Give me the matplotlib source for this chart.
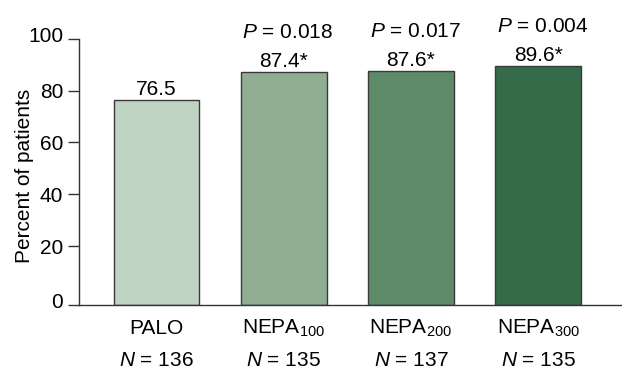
import matplotlib
matplotlib.use("Agg")
import matplotlib.pyplot as plt
import matplotlib.transforms as mtransforms

plt.rcParams["font.family"] = ["Liberation Sans", "DejaVu Sans"]
plt.rcParams["mathtext.fontset"] = "custom"
plt.rcParams["mathtext.rm"] = "Liberation Sans"
plt.rcParams["mathtext.it"] = "Liberation Sans:italic"

# -----------------------
# DATA
# -----------------------
groups = ["PALO", "NEPA$_{100}$", "NEPA$_{200}$", "NEPA$_{300}$"]
n_labels = ["136", "135", "137", "135"]
percents = [76.5, 87.4, 87.6, 89.6]
value_labels = ["76.5", "87.4*", "87.6*", "89.6*"]
p_values = [None, "0.018", "0.017", "0.004"]
colors = ["#c0d4c4", "#8fae94", "#5f8a69", "#346b48"]

FS = 15
# the baseline in the original sits a bit below the 0 tick
BASE = -2.8

fig = plt.figure(figsize=(6.22, 3.71), dpi=100)
ax = fig.add_axes([0.127, 0.1779, 0.873, 0.717])

x = list(range(len(groups)))
heights = [v - BASE for v in percents]
ax.bar(x, heights, bottom=BASE, width=0.675, color=colors,
       edgecolor="#3a3a3a", linewidth=1.0)

ax.set_xlim(-0.61, 3.66)
ax.set_ylim(BASE, 100)

ax.set_yticks([BASE, 20, 40, 60, 80, 100])
ax.set_yticklabels(["0", "20", "40", "60", "80", "100"])
ax.tick_params(axis="y", length=8, width=1.0, pad=3.5, labelsize=FS,
               color="#333333")
ax.set_xticks([])

# the 0 and 100 labels sit a little above their ticks
fig.canvas.draw()
up = mtransforms.ScaledTranslation(0, 4 / 100, fig.dpi_scale_trans)
ylabs = ax.get_yticklabels()
for lab in (ylabs[0], ylabs[-1]):
    lab.set_transform(lab.get_transform() + up)

for s in ["top", "right"]:
    ax.spines[s].set_visible(False)
for s in ["left", "bottom"]:
    ax.spines[s].set_color("#333333")
    ax.spines[s].set_linewidth(1.0)

# value labels and P values above the bars
for xi, v, lab, p in zip(x, percents, value_labels, p_values):
    ax.annotate(lab, (xi, v), xytext=(0, 3.5), textcoords="offset points",
                ha="center", va="baseline", fontsize=FS)
    if p is not None:
        ax.annotate("$P$ = " + p, (xi, v), xytext=(3, 24.5),
                    textcoords="offset points",
                    ha="center", va="baseline", fontsize=FS)

# group names and N = ... row under the axis
trans = mtransforms.blended_transform_factory(ax.transData, fig.transFigure)
for xi, g, n in zip(x, groups, n_labels):
    ax.text(xi, 1 - 334 / 371, g, transform=trans,
            ha="center", va="baseline", fontsize=FS)
    ax.text(xi, 1 - 366.5 / 371, "$N$ = " + n, transform=trans,
            ha="center", va="baseline", fontsize=FS)

fig.text(24 / 622, 1 - 176 / 371, "Percent of patients", rotation=90,
         ha="center", va="center", fontsize=FS)

fig.savefig("out.png", dpi=100)
